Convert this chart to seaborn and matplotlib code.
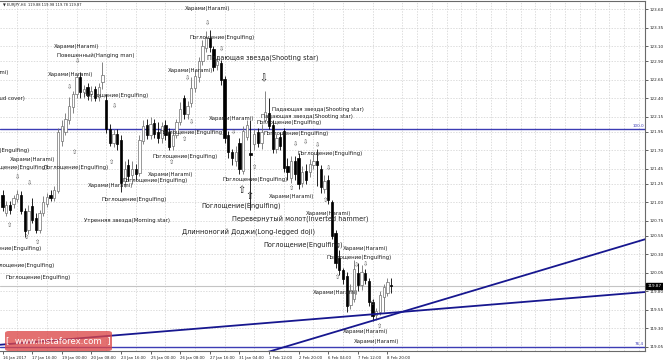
import numpy as np
import pandas as pd
import matplotlib
matplotlib.use("Agg")
import matplotlib.pyplot as plt
import matplotlib.transforms as mtransforms
from matplotlib.patches import FancyBboxPatch
import seaborn as sns

# ---------------- data (EURJPY H4) ----------------
opens = [121.10, 120.86, 120.96, 120.98, 121.04, 121.09, 120.88, 120.62, 120.95, 120.78,
         120.62, 120.86, 120.98, 121.10, 121.06, 121.15, 121.82, 121.95, 122.10, 122.28,
         122.45, 122.68, 122.48, 122.55, 122.45, 122.52, 122.42, 122.62, 122.38, 121.98,
         121.80, 121.92, 121.84, 121.28, 121.50, 121.36, 121.45, 121.39, 121.82, 122.04,
         121.90, 122.06, 121.95, 121.86, 122.04, 121.95, 121.76, 121.90, 122.08, 122.40,
         122.18, 122.33, 122.53, 122.68, 122.90, 123.08, 123.21, 123.06, 122.84, 122.88,
         122.66, 121.90, 121.68, 121.55, 121.80, 121.42, 121.88, 121.66, 121.78, 121.94,
         121.80, 122.10, 122.20, 122.04, 121.72, 121.88, 121.96, 121.48, 121.32, 121.56,
         121.60, 121.26, 121.42, 121.40, 121.50, 121.55, 121.45, 121.18, 121.30, 121.00,
         120.58, 120.25, 120.08, 120.00, 119.62, 119.70, 120.05, 119.88, 120.05, 119.94,
         119.66, 119.48, 119.52, 119.72, 119.78, 119.88]
highs = [121.16, 121.02, 121.01, 121.10, 121.16, 121.15, 120.92, 120.96, 121.05, 120.85,
         120.90, 121.08, 121.12, 121.16, 121.22, 122.00, 122.10, 122.20, 122.42, 122.50,
         122.72, 122.75, 122.58, 122.60, 122.56, 122.56, 122.60, 122.89, 122.45, 122.05,
         121.98, 121.98, 121.90, 121.55, 121.58, 121.55, 121.52, 121.90, 122.10, 122.12,
         122.15, 122.12, 122.08, 122.08, 122.10, 122.00, 121.98, 122.12, 122.35, 122.44,
         122.36, 122.68, 122.78, 122.96, 123.18, 123.30, 123.32, 123.10, 122.95, 122.92,
         122.70, 121.96, 121.72, 121.75, 121.86, 122.02, 122.10, 122.10, 121.98, 122.00,
         122.05, 122.50, 122.40, 122.10, 121.92, 121.95, 122.00, 121.60, 121.62, 121.62,
         121.66, 121.48, 121.52, 121.58, 121.65, 121.72, 121.50, 121.36, 121.36, 121.03,
         120.62, 120.35, 120.12, 120.06, 119.90, 120.22, 120.18, 120.16, 120.10, 119.98,
         119.70, 119.58, 119.80, 119.90, 119.98, 119.98]
lows = [120.88, 120.82, 120.84, 120.92, 121.00, 120.84, 120.53, 120.57, 120.72, 120.58,
        120.58, 120.82, 120.94, 121.02, 121.02, 121.12, 121.75, 121.90, 122.05, 122.20,
        122.40, 122.40, 122.40, 122.38, 122.36, 122.36, 122.36, 122.52, 121.93, 121.75,
        121.74, 121.70, 121.14, 121.20, 121.28, 121.25, 121.30, 121.35, 121.78, 121.85,
        121.85, 121.86, 121.80, 121.80, 121.84, 121.70, 121.70, 121.86, 122.04, 122.12,
        122.12, 122.28, 122.48, 122.62, 122.85, 123.02, 123.02, 122.76, 122.78, 122.58,
        121.80, 121.60, 121.50, 121.48, 121.38, 121.38, 121.84, 120.90, 121.70, 121.74,
        121.72, 122.06, 121.98, 121.66, 121.66, 121.70, 121.40, 121.30, 121.26, 121.30,
        121.18, 121.20, 121.24, 121.34, 121.44, 121.22, 121.12, 121.12, 120.98, 120.50,
        120.12, 120.02, 119.90, 119.52, 119.56, 119.66, 119.80, 119.82, 119.90, 119.60,
        119.40, 119.41, 119.48, 119.52, 119.74, 119.78]
closes = [120.93, 120.96, 120.90, 121.05, 121.11, 120.88, 120.61, 120.88, 120.76, 120.62,
          120.85, 121.00, 121.07, 121.06, 121.16, 121.95, 122.02, 122.12, 122.30, 122.45,
          122.68, 122.48, 122.52, 122.44, 122.50, 122.40, 122.55, 122.71, 121.98, 121.80,
          121.92, 121.78, 121.26, 121.45, 121.35, 121.44, 121.38, 121.84, 122.02, 121.90,
          122.05, 121.92, 121.86, 122.02, 121.90, 121.74, 121.90, 122.08, 122.25, 122.18,
          122.30, 122.53, 122.70, 122.90, 123.10, 123.22, 123.09, 122.82, 122.90, 122.64,
          121.86, 121.68, 121.60, 121.68, 121.44, 121.96, 122.04, 121.64, 121.92, 121.80,
          121.95, 122.22, 122.02, 121.72, 121.86, 121.76, 121.46, 121.40, 121.55, 121.38,
          121.24, 121.40, 121.30, 121.52, 121.56, 121.50, 121.20, 121.28, 121.03, 120.55,
          120.18, 120.08, 119.96, 119.60, 119.82, 120.10, 119.88, 120.06, 119.95, 119.65,
          119.47, 119.53, 119.75, 119.86, 119.92, 119.87]

x_tick_bars = [0, 8, 16, 24, 32, 40, 48, 56, 64, 72, 80, 88, 96, 104]
x_tick_labels = ["16 Jan 2017", "17 Jan 16:00", "19 Jan 00:00", "20 Jan 08:00",
                 "23 Jan 16:00", "25 Jan 00:00", "26 Jan 08:00", "27 Jan 16:00",
                 "31 Jan 04:00", "1 Feb 12:00", "2 Feb 20:00", "6 Feb 04:00",
                 "7 Feb 12:00", "8 Feb 20:00"]
y_ticks = [123.60, 123.35, 123.10, 122.90, 122.65, 122.40, 122.15, 121.95, 121.70,
           121.45, 121.25, 121.00, 120.75, 120.55, 120.30, 120.05, 119.80, 119.55,
           119.30, 119.05]

trend_a_x = [-0.68, 173.6]
trend_a_y = [119.08, 119.79]
trend_b_x = [71.5, 173.6]
trend_b_y = [118.98, 120.50]
fib_levels = [121.98, 119.05]
fib_labels = ["100.0", "76.4"]
last_price = 119.87

# pattern labels: (bar, price, text, size, ha)
labels = [
    (55.5, 123.61, "Харами(Harami)", "s", "center"),
    (19.9, 123.09, "Харами(Harami)", "s", "center"),
    (25.3, 122.97, "Повешенный(Hanging man)", "s", "center"),
    (18.5, 122.72, "Харами(Harami)", "s", "center"),
    (30.7, 122.44, "Поглощение(Engulfing)", "s", "center"),
    (1.76, 122.75, "Харами(Harami)", "s", "right"),
    (6.1, 122.39, "Завеса из темных облаков(Dark cloud cover)", "s", "right"),
    (50.7, 122.77, "Харами(Harami)", "s", "center"),
    (59.3, 123.21, "Поглощение(Engulfing)", "s", "center"),
    (70.4, 122.94, "Падающая звезда(Shooting star)", "l", "center"),
    (85.3, 122.25, "Падающая звезда(Shooting star)", "s", "center"),
    (82.3, 122.15, "Падающая звезда(Shooting star)", "s", "center"),
    (62.0, 122.12, "Харами(Harami)", "s", "center"),
    (51.2, 121.94, "Поглощение(Engulfing)", "s", "center"),
    (77.4, 122.07, "Поглощение(Engulfing)", "s", "center"),
    (79.3, 121.92, "Поглощение(Engulfing)", "s", "center"),
    (88.5, 121.66, "Поглощение(Engulfing)", "s", "center"),
    (68.2, 121.30, "Поглощение(Engulfing)", "s", "center"),
    (64.5, 120.95, "Поглощение(Engulfing)", "l", "center"),
    (78.2, 121.07, "Харами(Harami)", "s", "center"),
    (88.0, 120.85, "Харами(Harami)", "s", "center"),
    (80.4, 120.76, "Перевернутый молот(Inverted hammer)", "l", "center"),
    (66.4, 120.59, "Длинноногий Доджи(Long-legged doji)", "l", "center"),
    (81.2, 120.42, "Поглощение(Engulfing)", "l", "center"),
    (98.2, 120.38, "Харами(Harami)", "s", "center"),
    (96.4, 120.26, "Поглощение(Engulfing)", "s", "center"),
    (90.1, 119.78, "Харами(Harami)", "s", "center"),
    (98.2, 119.26, "Харами(Harami)", "s", "center"),
    (101.0, 119.12, "Харами(Harami)", "s", "center"),
    (7.4, 121.70, "Поглощение(Engulfing)", "s", "right"),
    (8.0, 121.57, "Харами(Harami)", "s", "center"),
    (12.3, 121.47, "Поглощение(Engulfing)", "s", "right"),
    (19.9, 121.47, "Поглощение(Engulfing)", "s", "center"),
    (29.1, 121.23, "Харами(Harami)", "s", "center"),
    (41.2, 121.29, "Поглощение(Engulfing)", "s", "center"),
    (35.5, 121.03, "Поглощение(Engulfing)", "s", "center"),
    (33.6, 120.75, "Утренняя звезда(Morning star)", "s", "center"),
    (49.3, 121.61, "Поглощение(Engulfing)", "s", "center"),
    (45.5, 121.37, "Харами(Harami)", "s", "center"),
    (10.7, 120.37, "Поглощение(Engulfing)", "s", "right"),
    (14.2, 120.15, "Поглощение(Engulfing)", "s", "right"),
    (9.6, 119.98, "Поглощение(Engulfing)", "s", "center"),
]
down_arrows = [(55.3, 123.41), (59.3, 123.06), (18.2, 122.55), (20.4, 122.90),
               (30.4, 122.29), (50.1, 122.67), (4.2, 121.34), (7.4, 121.26),
               (62.3, 121.94), (79.1, 121.78), (82.0, 121.80), (85.0, 121.77),
               (88.0, 121.45), (95.8, 120.15), (98.2, 120.17), (51.2, 122.08)]
up_arrows = [(1.8, 120.68), (6.6, 120.52), (9.6, 120.45), (19.6, 121.67),
             (29.6, 121.53), (45.8, 121.53), (49.3, 121.85), (68.2, 121.46),
             (78.2, 121.19), (87.4, 121.02), (90.4, 119.99), (99.9, 119.63),
             (102.0, 119.33)]
big_down_arrows = [(70.4, 122.67)]
big_up_arrows = [(64.5, 121.17), (66.8, 121.08)]

# ---------------- figure ----------------
sns.set_theme(style="white")
plt.rcParams["font.family"] = ["DejaVu Sans"]

fig = plt.figure(figsize=(6.63, 3.61), dpi=100)
fig.patch.set_facecolor("white")
ax = fig.add_axes([0.0, 1 - 351 / 361, 645 / 663, 350 / 361])
ax.set_facecolor("white")

df = pd.DataFrame({"bar": np.arange(len(opens)), "open": opens, "high": highs,
                   "low": lows, "close": closes})
up = df["close"] >= df["open"]
bu = df[up]
bd = df[~up]
ax.vlines(bu["bar"], bu["low"], bu["high"], color="#707070", lw=0.6, zorder=3)
ax.vlines(bd["bar"], bd["low"], bd["high"], color="black", lw=0.6, zorder=3)
ax.bar(bu["bar"], np.maximum(bu["close"] - bu["open"], 0.004), bottom=bu["open"],
       width=0.62, color="white", edgecolor="#707070", lw=0.5, zorder=4)
ax.bar(bd["bar"], np.maximum(bd["open"] - bd["close"], 0.004), bottom=bd["close"],
       width=0.62, color="black", edgecolor="black", lw=0.5, zorder=4)

# current price line
ax.axhline(last_price, color="#c4c4c4", lw=0.8, zorder=1)

# fib levels
for lv, lb in zip(fib_levels, fib_labels):
    ax.axhline(lv, color="#3c3cb4", lw=1.0, zorder=2)
    ax.text(173.3, lv + 0.012, lb, fontsize=3, color="#3c3cb4", ha="right", va="bottom",
            zorder=6)

# trendlines
tl = pd.DataFrame({"x": trend_a_x + trend_b_x, "y": trend_a_y + trend_b_y,
                   "line": ["a", "a", "b", "b"]})
sns.lineplot(data=tl, x="x", y="y", units="line", estimator=None, color="#17178f",
             lw=1.3, ax=ax, zorder=5, legend=False)

ax.set_xlim(-0.68, 173.6)
ax.set_ylim(118.996, 123.708)

# ticks & grid
ax.yaxis.tick_right()
ax.set_yticks(y_ticks)
ax.set_yticklabels([f"{v:.2f}" for v in y_ticks])
ax.set_xticks(x_tick_bars)
ax.set_xticklabels(x_tick_labels)
for t in ax.get_xticklabels():
    t.set_ha("left")
ax.set_xticks(np.arange(0, 174, 4), minor=True)
ax.tick_params(axis="y", which="major", labelsize=3, length=2, width=0.5, pad=1.5,
               colors="#222222", right=True)
ax.tick_params(axis="x", which="major", labelsize=2.8, length=2, width=0.5, pad=1.5,
               colors="#222222", bottom=True)
ax.tick_params(axis="x", which="minor", length=0)
ax.grid(False)
ax.grid(which="minor", axis="x", ls=(0, (2, 2)), color="#cfcfcf", lw=0.5)
ax.grid(which="major", axis="y", ls=(0, (2, 2)), color="#cfcfcf", lw=0.5)
ax.set_axisbelow(True)
ax.set_xlabel("")
ax.set_ylabel("")
for side in ["top", "right", "bottom"]:
    ax.spines[side].set_color("#6a6a6a")
    ax.spines[side].set_linewidth(0.8)
ax.spines["left"].set_visible(False)

# price box
btr = mtransforms.blended_transform_factory(ax.transAxes, ax.transData)
ax.text(1.004, last_price, f"{last_price:.2f}", transform=btr, fontsize=3, color="white",
        ha="left", va="center", zorder=7,
        bbox=dict(boxstyle="square,pad=0.3", fc="black", ec="black"))

# pattern labels
for bx, py, s, sz, ha in labels:
    ax.text(bx, py, s, fontsize=3.9 if sz == "s" else 4.7, ha=ha, va="center",
            color="#1e1e1e", zorder=6)
for bx, py in down_arrows:
    ax.text(bx, py, "⇩", fontsize=4.5, ha="center", va="center", color="#505050", zorder=6)
for bx, py in up_arrows:
    ax.text(bx, py, "⇧", fontsize=4.5, ha="center", va="center", color="#505050", zorder=6)
for bx, py in big_down_arrows:
    ax.text(bx, py, "⇩", fontsize=7, ha="center", va="center", color="#202020", zorder=6)
for bx, py in big_up_arrows:
    ax.text(bx, py, "⇧", fontsize=7, ha="center", va="center", color="#202020", zorder=6)

# header
fig.text(3 / 663, 1 - 5 / 361, "▼ EURJPY,H4  119.88 119.98 119.78 119.87", fontsize=2.6,
         ha="left", va="center", color="#222222")

# watermark
wm = FancyBboxPatch((5 / 663, 1 - 351 / 361), 107 / 663, 20 / 361,
                    boxstyle="round,pad=0,rounding_size=0.006", transform=fig.transFigure,
                    fc="#dc4848", ec="none", alpha=0.78, zorder=10)
fig.add_artist(wm)
fig.text(58.5 / 663, 1 - 341 / 361, "[  www.instaforex.com  ]", fontsize=6.2, color="white",
         ha="center", va="center", zorder=11)

fig.savefig("out.png", dpi=100, facecolor="white")
